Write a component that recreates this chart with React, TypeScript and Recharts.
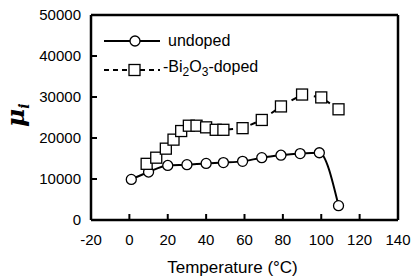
import React from 'react';
import { LineChart, Line, XAxis, YAxis, Legend } from 'recharts';

// temperature (°C) and initial permeability
const undopedTemp = [1, 10, 20, 30, 40, 49, 59, 69, 79, 89, 99, 109];
const undopedMu = [9900, 11700, 13300, 13500, 13800, 14000, 14300, 15200, 15800, 16200, 16400, 3500];
const dopedTemp = [9, 14, 19, 23, 27, 31, 35, 40, 45, 49, 59, 69, 79, 90, 100, 109];
const dopedMu = [13700, 15200, 17400, 19600, 21700, 23000, 23000, 22600, 22000, 22000, 22400, 24400, 27700, 30600, 29900, 27000];

const xTicks = [-20, 0, 20, 40, 60, 80, 100, 120, 140];
const yTicks = [0, 10000, 20000, 30000, 40000, 50000];

const undoped = undopedTemp.map((t, i) => ({ t, mu: undopedMu[i] }));
const doped = dopedTemp.map((t, i) => ({ t, mu: dopedMu[i] }));

const FONT = '"Liberation Sans", Arial, sans-serif';
const tickStyle = { fill: '#000', fontSize: 15, fontFamily: FONT };
const frameLine = { stroke: '#000', strokeWidth: 2.5 };
const tickMark = { stroke: '#000', strokeWidth: 2 };

const SquareDot = (props: any) => {
  const { cx, cy, index } = props;
  if (cx == null || cy == null) return <g key={`sq-${index}`} />;
  return (
    <rect key={`sq-${index}`} x={cx - 5.5} y={cy - 5.5} width={11} height={11}
      fill="#fff" stroke="#000" strokeWidth={1.3} />
  );
};

const LegendBox = () => (
  <div style={{ fontFamily: FONT, fontSize: 16, color: '#000', lineHeight: '29px' }}>
    <div style={{ display: 'flex', alignItems: 'center', height: 29 }}>
      <svg width={56} height={14}>
        <line x1={0} y1={7} x2={56} y2={7} stroke="#000" strokeWidth={2} />
        <circle cx={31} cy={7} r={5} fill="#fff" stroke="#000" strokeWidth={1.3} />
      </svg>
      <span style={{ marginLeft: 8 }}>undoped</span>
    </div>
    <div style={{ display: 'flex', alignItems: 'center', height: 29 }}>
      <svg width={56} height={14}>
        <line x1={0} y1={7} x2={56} y2={7} stroke="#000" strokeWidth={2} strokeDasharray="5 4" />
        <rect x={25} y={1.5} width={11} height={11} fill="#fff" stroke="#000" strokeWidth={1.3} />
      </svg>
      <span style={{ marginLeft: 3 }}>
        -Bi<sub style={{ fontSize: 12 }}>2</sub>O<sub style={{ fontSize: 12 }}>3</sub>-doped
      </span>
    </div>
  </div>
);

const XTitle = (props: any) => {
  const { viewBox } = props;
  return (
    <text x={viewBox.x + viewBox.width / 2 - 12} y={273} textAnchor="middle"
      fontSize={17} fontFamily={FONT} fill="#000">
      Temperature (°C)
    </text>
  );
};

const YTitle = () => (
  <text transform="translate(24,127) rotate(-90)" fontFamily='"DejaVu Serif", serif'
    fontStyle="italic" fontWeight="bold" fontSize={25} fill="#000">
    μ<tspan fontSize={14} dy={5}>i</tspan>
  </text>
);

export default function App() {
  return (
    <div style={{ position: 'absolute', left: 0, top: 0, background: '#fff' }}>
      <LineChart width={413} height={280} margin={{ top: 13, right: 13, bottom: 0, left: 0 }}>
        <XAxis dataKey="t" type="number" domain={[-20, 140]} ticks={xTicks} height={60}
          axisLine={frameLine} tickLine={tickMark} tickSize={-6} tickMargin={20} tick={tickStyle}
          label={<XTitle />} />
        <XAxis xAxisId="top" dataKey="t" orientation="top" type="number" domain={[-20, 140]}
          ticks={xTicks} height={2} axisLine={frameLine} tickLine={tickMark} tickSize={-6}
          tick={false} />
        <YAxis dataKey="mu" type="number" domain={[0, 50000]} ticks={yTicks} width={91}
          axisLine={frameLine} tickLine={tickMark} tickSize={-6} tickMargin={16} tick={tickStyle}
          label={<YTitle />} />
        <YAxis yAxisId="right" dataKey="mu" orientation="right" type="number" domain={[0, 50000]}
          ticks={yTicks} width={2} axisLine={frameLine} tickLine={tickMark} tickSize={-6}
          tick={false} />
        <Legend layout="vertical" align="center" verticalAlign="middle" content={<LegendBox />}
          wrapperStyle={{ left: 104, top: 26, width: 'auto', height: 'auto' }} />
        {/* invisible copy so the frame axes get a domain */}
        <Line data={doped} xAxisId="top" yAxisId="right" dataKey="mu" stroke="none" dot={false}
          activeDot={false} legendType="none" isAnimationActive={false} />
        <Line data={undoped} dataKey="mu" type="monotone" stroke="#000" strokeWidth={2}
          dot={{ r: 5, fill: '#fff', stroke: '#000', strokeWidth: 1.3 }}
          activeDot={false} isAnimationActive={false} />
        <Line data={doped} dataKey="mu" type="linear" stroke="#000" strokeWidth={2}
          strokeDasharray="6 6" dot={<SquareDot />} activeDot={false} isAnimationActive={false} />
      </LineChart>
    </div>
  );
}
